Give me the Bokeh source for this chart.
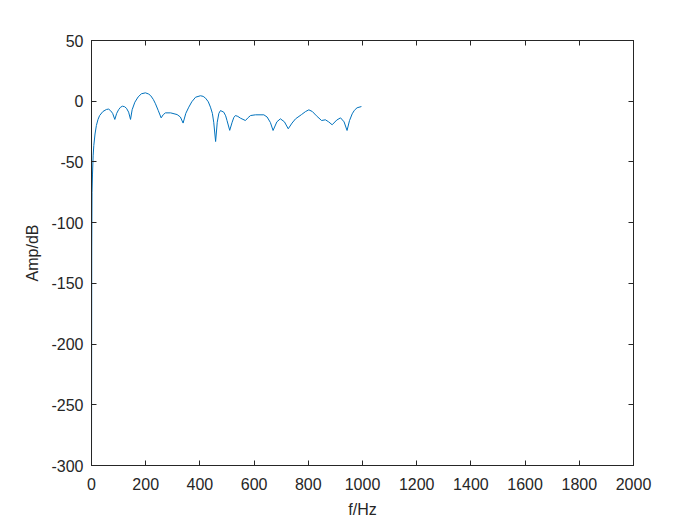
from bokeh.plotting import figure
from bokeh.models import LinearAxis, FixedTicker, Range1d
from bokeh.embed import file_html
from bokeh.resources import INLINE

freq = [0, 1, 2, 3.7, 6, 8.5, 13, 18, 24, 30, 42, 55, 63, 70, 78, 86, 93, 100, 107, 114,
        122, 129, 137, 144, 150, 160, 172, 184, 199, 210, 218, 228, 236, 246, 257, 265,
        273, 292, 316, 328, 338, 348, 359, 370, 384, 402, 412, 421, 431, 439, 446, 451,
        458, 464, 470, 476, 488, 495, 500, 510, 519, 525, 531, 540, 550, 568, 578, 587,
        605, 636, 648, 660, 670, 684, 697, 712, 726, 740, 753, 775, 790, 802, 815, 830,
        849, 863, 875, 888, 905, 919, 932, 943, 952, 962, 970, 980, 996]
amp = [-300, -120, -75, -60, -45, -36.5, -27, -20, -15, -11.8, -8.5, -6.8, -6.5, -7.7,
       -10, -15, -10, -7, -5, -4.1, -4.5, -5.8, -9, -15, -7, -0.8, 3.5, 6.1, 6.9, 6, 4.7,
       1.5, -2.1, -7.5, -13.7, -11, -9.6, -9.6, -11, -13, -18, -10, -4.9, -0.5, 3.3, 4.5,
       4, 2.5, -0.5, -4.9, -10, -17.3, -33.2, -17.3, -10, -7.7, -9, -12, -15.9, -24,
       -17.3, -13.5, -11.8, -12.5, -14, -15.9, -13.5, -11.8, -11.2, -11.2, -13, -17.5,
       -24.1, -17, -14.5, -17, -22.7, -18, -14.5, -11, -8.5, -7.1, -8.5, -12, -15.9,
       -15.3, -17, -19.4, -15.5, -13.7, -17, -24.1, -16, -10.4, -7.5, -5.4, -4.4]

x_ticks = list(range(0, 2001, 200))
y_ticks = list(range(-300, 51, 50))

AX = "#262626"
FONT = "Liberation Sans"

p = figure(output_backend="svg", toolbar_location=None,
           x_range=Range1d(0, 2000), y_range=Range1d(-300, 50),
           min_border_left=91, min_border_right=59, min_border_top=40, min_border_bottom=58,
           frame_width=542, frame_height=425)
p.grid.visible = False
p.outline_line_color = AX
p.outline_line_width = 1
p.background_fill_color = "white"
p.border_fill_color = "white"

p.line(freq, amp, line_color="#0072BD", line_width=1)

def style(ax):
    ax.axis_line_color = AX
    ax.major_tick_line_color = AX
    ax.major_tick_in = 5
    ax.major_tick_out = 0
    ax.minor_tick_line_color = None
    ax.major_label_text_font = FONT
    ax.major_label_text_font_size = "16px"
    ax.major_label_text_color = AX
    ax.axis_label_text_font = FONT
    ax.axis_label_text_font_size = "16px"
    ax.axis_label_text_font_style = "normal"
    ax.axis_label_text_color = AX

xa = p.xaxis[0]
xa.ticker = FixedTicker(ticks=x_ticks)
xa.axis_label = "f/Hz"
xa.axis_label_standoff = 8
xa.major_label_standoff = 12
style(xa)

ya = p.yaxis[0]
ya.ticker = FixedTicker(ticks=y_ticks)
ya.major_label_overrides = {t: str(t) for t in y_ticks}
ya.axis_label = "Amp/dB"
ya.axis_label_standoff = 7
ya.major_label_standoff = 8
style(ya)

top = LinearAxis(ticker=FixedTicker(ticks=x_ticks))
style(top)
top.major_label_overrides = {t: "" for t in x_ticks}
p.add_layout(top, "above")
right = LinearAxis(ticker=FixedTicker(ticks=y_ticks))
style(right)
right.major_label_overrides = {t: "" for t in y_ticks}
p.add_layout(right, "right")

open("out.html", "w").write(file_html(p, INLINE))
